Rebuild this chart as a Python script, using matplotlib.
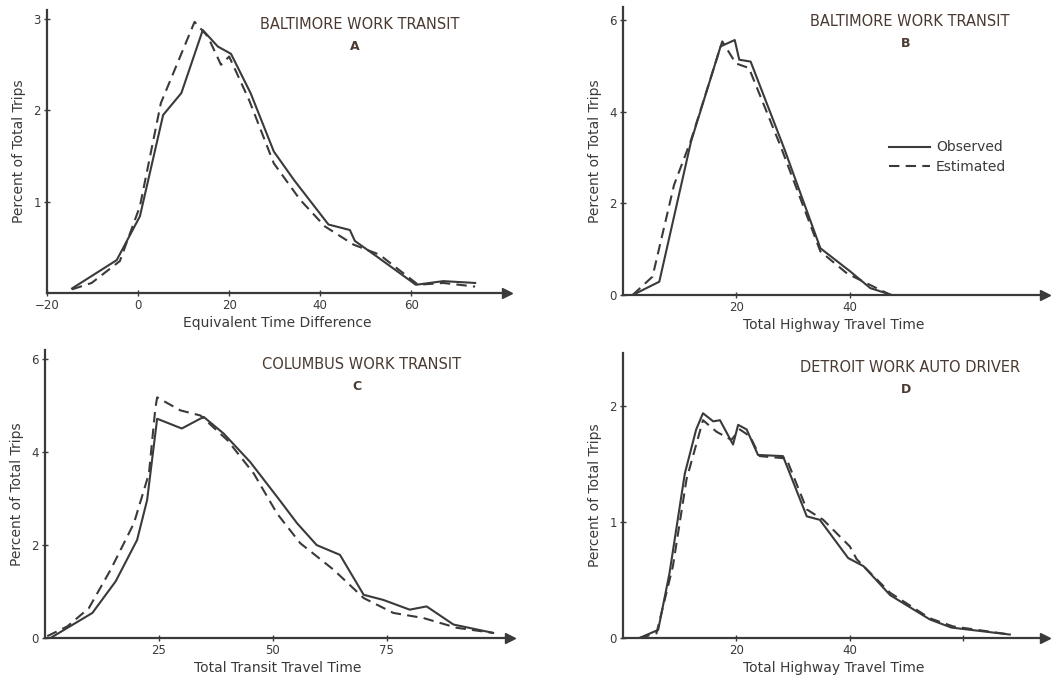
import matplotlib
matplotlib.use("Agg")
import matplotlib.pyplot as plt

plt.rcParams['font.family'] = ['DejaVu Sans']

# Panel A - Baltimore work transit, equivalent time difference
a_obs_x = [-14.5, -4.7, 0.4, 5.5, 9.5, 14.2, 17.5, 20.4, 24.7, 29.8, 34.2, 41.8, 46.5, 47.6, 52.4, 61, 67, 74]
a_obs_y = [0.05, 0.36, 0.84, 1.95, 2.19, 2.88, 2.70, 2.62, 2.19, 1.55, 1.24, 0.75, 0.69, 0.57, 0.40, 0.09, 0.13, 0.11]
a_est_x = [-14.5, -10.2, -4, 0.4, 5, 12.4, 15.3, 18.2, 20, 24.4, 29.8, 35.6, 41, 47.3, 53, 61.5, 67, 74]
a_est_y = [0.04, 0.11, 0.35, 0.95, 2.08, 2.97, 2.81, 2.50, 2.59, 2.11, 1.42, 1.02, 0.73, 0.53, 0.42, 0.09, 0.11, 0.07]

# Panel B - Baltimore work transit, total highway travel time
b_obs_x = [1.7, 6.4, 12, 17.2, 19.7, 20.5, 22.5, 28.4, 34.8, 40.1, 43.6, 47.4]
b_obs_y = [0, 0.29, 3.35, 5.42, 5.56, 5.13, 5.09, 3.2, 1.02, 0.51, 0.15, 0]
b_est_x = [1.7, 5.2, 9, 12, 17.5, 19.9, 22.2, 27.8, 34.8, 39.5, 44.2, 47.2]
b_est_y = [0, 0.4, 2.4, 3.38, 5.53, 5.05, 4.95, 3.24, 0.95, 0.47, 0.18, 0]

# Panel C - Columbus work transit, total transit travel time
c_obs_x = [1.2, 10.4, 15.5, 20.2, 22.4, 24.6, 30, 34.8, 39.2, 45, 50.9, 55.3, 59.6, 64.7, 69.9, 74.2, 80, 83.7, 89.6, 98.3]
c_obs_y = [0, 0.54, 1.22, 2.11, 2.97, 4.72, 4.51, 4.76, 4.40, 3.79, 3.04, 2.47, 2.0, 1.79, 0.93, 0.82, 0.61, 0.68, 0.29, 0.11]
c_est_x = [0.5, 4.9, 9.6, 14.4, 19.5, 22.8, 24.2, 24.6, 29.7, 34.1, 40, 45.8, 50.9, 56, 63.3, 69.9, 76.4, 83, 90.3, 98.3]
c_est_y = [0.04, 0.25, 0.64, 1.47, 2.47, 3.54, 4.94, 5.18, 4.9, 4.79, 4.26, 3.54, 2.68, 2.04, 1.47, 0.86, 0.54, 0.43, 0.22, 0.11]

# Panel D - Detroit work auto driver, total highway travel time
d_obs_x = [2.9, 6.2, 8.2, 10.9, 12.9, 14.1, 15.9, 17.1, 19.4, 20.3, 21.8, 23.8, 28.2, 32.4, 34.7, 39.7, 42.4, 47.1, 54.1, 57.9, 68.2]
d_obs_y = [0, 0.07, 0.56, 1.42, 1.8, 1.94, 1.87, 1.88, 1.67, 1.84, 1.8, 1.58, 1.57, 1.05, 1.02, 0.69, 0.62, 0.37, 0.16, 0.09, 0.03]
d_est_x = [2.9, 5.9, 8.8, 11.2, 14.1, 16.5, 19.1, 20.6, 22.4, 24.1, 28.8, 32.4, 35.3, 40, 41.2, 47.1, 54.1, 58.2, 68.2]
d_est_y = [0, 0.04, 0.62, 1.37, 1.88, 1.78, 1.71, 1.80, 1.74, 1.57, 1.55, 1.11, 1.02, 0.79, 0.68, 0.39, 0.17, 0.1, 0.03]

W, H = 1056, 675
ink = "#3a3a3a"
title_col = "#4a3a32"

fig = plt.figure(figsize=(W / 100, H / 100), dpi=100)


def make_axes(left, bottom, right, top):
    # pixel box -> figure fraction
    return fig.add_axes([left / W, 1 - bottom / H, (right - left) / W, (bottom - top) / H])


panels = [
    # box, xlim, ylim, xticks, yticks, xlabel, title, letter, data
    ((47, 293, 507, 10), (-20, 81), (0, 3.1), [-20, 0, 20, 40, 60], [1, 2, 3],
     "Equivalent Time Difference", "BALTIMORE WORK TRANSIT", "A",
     (a_obs_x, a_obs_y, a_est_x, a_est_y)),
    ((623, 295, 1045, 7), (0, 74.4), (0, 6.28), [20, 40], [0, 2, 4, 6],
     "Total Highway Travel Time", "BALTIMORE WORK TRANSIT", "B",
     (b_obs_x, b_obs_y, b_est_x, b_est_y)),
    ((45, 638, 510, 350), (0, 102), (0, 6.2), [25, 50, 75], [0, 2, 4, 6],
     "Total Transit Travel Time", "COLUMBUS WORK TRANSIT", "C",
     (c_obs_x, c_obs_y, c_est_x, c_est_y)),
    ((623, 638, 1045, 353), (0, 74.4), (0, 2.46), [20, 40, 60], [0, 1, 2],
     "Total Highway Travel Time", "DETROIT WORK AUTO DRIVER", "D",
     (d_obs_x, d_obs_y, d_est_x, d_est_y)),
]

for box, xlim, ylim, xt, yt, xlab, title, letter, (ox, oy, ex, ey) in panels:
    ax = make_axes(*box)
    ax.plot(ox, oy, color=ink, lw=1.5, label="Observed")
    ax.plot(ex, ey, color=ink, lw=1.5, ls=(0, (5, 3)), label="Estimated")
    ax.set_xlim(*xlim)
    ax.set_ylim(*ylim)
    ax.set_xticks(xt)
    ax.set_xticklabels(["\u2212" + str(-t) if t < 0 else (str(t) if t != 60 or letter == "A" else "")
                        for t in xt])
    ax.set_yticks(yt)
    for s in ["top", "right"]:
        ax.spines[s].set_visible(False)
    for s in ["left", "bottom"]:
        ax.spines[s].set_color(ink)
        ax.spines[s].set_linewidth(1.6)
    ax.tick_params(direction="inout", length=5, width=1, colors=ink,
                   labelsize=8.5, pad=2)
    ax.plot(1, 0, marker=">", color=ink, markersize=7, transform=ax.transAxes,
            clip_on=False)
    ax.set_xlabel(xlab, fontsize=10, color=ink, labelpad=3)
    ax.set_ylabel("Percent of Total Trips", fontsize=10, color=ink, labelpad=5)
    ax.text(0.68, 0.975, title, transform=ax.transAxes, ha="center", va="top",
            fontsize=10.5, color=title_col)
    ax.text(0.67, 0.895, letter, transform=ax.transAxes, ha="center", va="top",
            fontsize=9, fontweight="bold", color=title_col)
    if letter == "B":
        ax.legend(loc="upper left", bbox_to_anchor=(0.6, 0.58), frameon=False,
                  fontsize=10, handlelength=3, handletextpad=0.4,
                  labelspacing=0.4, labelcolor=ink)

fig.savefig("out.png", dpi=100)
